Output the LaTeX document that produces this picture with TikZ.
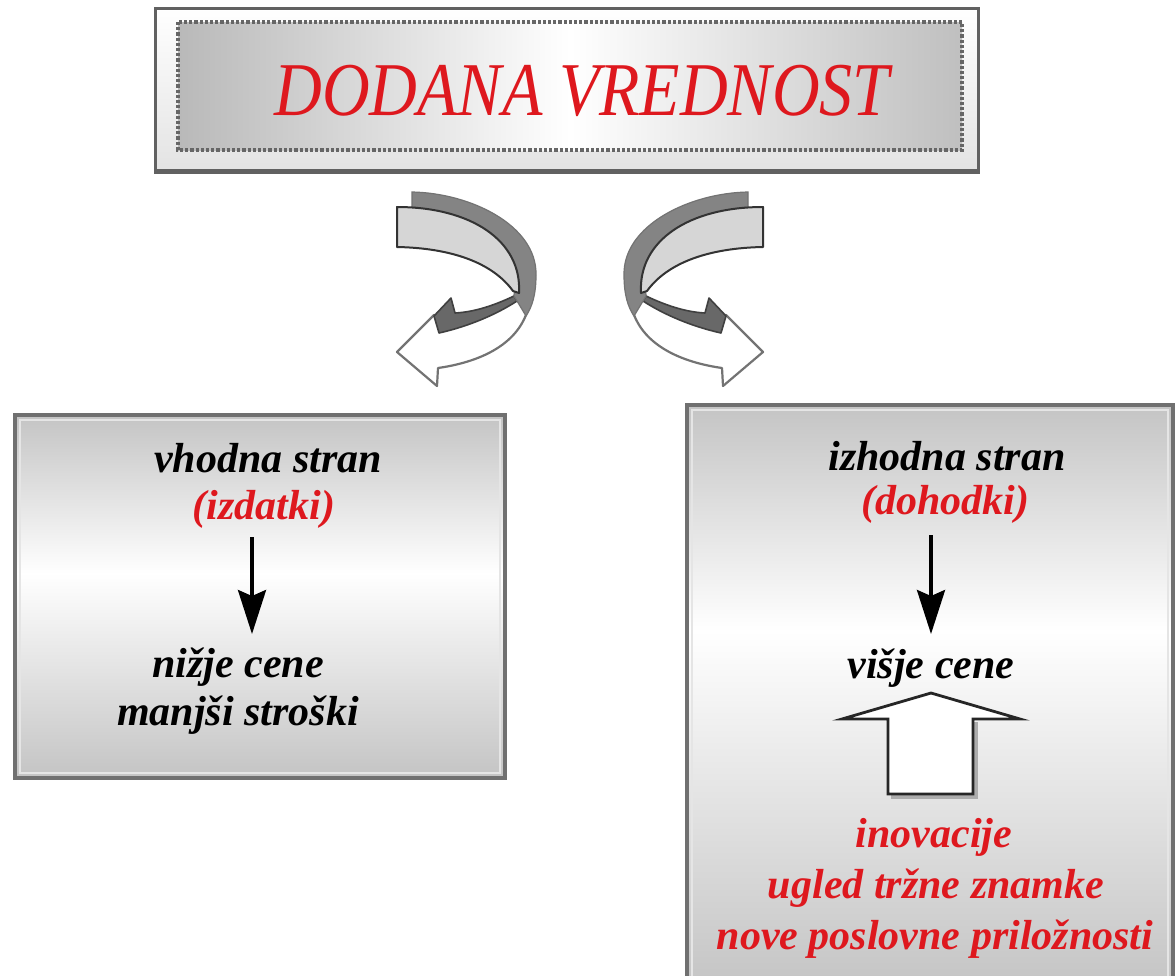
\documentclass[tikz,border=0pt]{standalone}
\usepackage{fontspec}
\setmainfont{Liberation Serif}
\newfontfamily\titlefont[FakeStretch=0.87]{Liberation Serif}
\usetikzlibrary{arrows.meta}
\definecolor{tred}{RGB}{222,24,30}
\definecolor{framegray}{RGB}{112,112,112}
\definecolor{panelgray}{RGB}{196,196,196}
\definecolor{bandgray}{RGB}{132,132,132}
\definecolor{facegray}{RGB}{214,214,214}
\definecolor{undergray}{RGB}{104,104,104}

\tikzset{
  lbl/.style={font=\fontsize{21}{24}\selectfont\bfseries\itshape, inner sep=0pt, anchor=base},
  redlbl/.style={lbl, text=tred},
  downarrow/.style={line width=1.8pt, -{Stealth[length=22pt,width=14pt,inset=3pt]}},
  panelframe/.style={draw=framegray, line width=2pt},
  panelinner/.style={draw=white!80!gray, line width=0.8pt},
  pics/curl/.style={code={
    % back side of the ribbon with the open head
    \filldraw[fill=white, draw=black!55, line width=1.1pt, line join=round]
      (515,296) -- (527,312) .. controls (516,345) and (480,362) .. (438,368)
      -- (437,386) -- (397,352) -- (434,315)
      .. controls (465,318) and (495,308) .. (515,296) -- cycle;
    % dark underside near the head
    \filldraw[fill=undergray, draw=black!75, line width=0.8pt, line join=round]
      (514,296) .. controls (495,305) and (475,312) .. (455,313)
      -- (451,298) -- (434,316) -- (439,333)
      .. controls (470,326) and (497,314) .. (517,301) -- cycle;
    % thickness of the ribbon
    \filldraw[fill=bandgray, draw=black!55, line width=0.6pt]
      (412,192) .. controls (470,193) and (537,225) .. (536,275)
      .. controls (536,295) and (532,307) .. (526,316)
      -- (514,296) .. controls (518,250) and (470,212) .. (412,207) -- cycle;
    % upper face of the ribbon
    \filldraw[fill=facegray, draw=black!80, line width=1pt, line join=round]
      (397,207) .. controls (470,207) and (522,240) .. (519,293)
      -- (513,291) .. controls (492,262) and (450,248) .. (397,247) -- cycle;
  }}
}

\begin{document}
\begin{tikzpicture}[x=0.5pt,y=-0.5pt]
\useasboundingbox (0,0) rectangle (1176,975);
\clip (0,0) rectangle (1176,975);
\fill[white] (0,0) rectangle (1176,975);

% title plate
\fill[top color=white, bottom color=gray!22] (155,8) rectangle (978,172);
\draw[black!62, line width=1.5pt] (155,8) rectangle (978,172);
\draw[black!62, line width=2.5pt] (155,171) -- (978,171);
\fill[left color=gray!55, right color=gray!50, middle color=white] (178,22) rectangle (962,150);
\draw[black!60, line width=2pt, dash pattern=on 1.6pt off 1pt] (178,22) rectangle (962,150);
\node[font=\titlefont\itshape\fontsize{38}{40}\selectfont, text=tred, inner sep=0pt, anchor=base]
  (title) at (582,115) {DODANA VREDNOST};

% curved ribbon arrows
\pic at (0,0) {curl};
\pic[xscale=-1] at (1160,0) {curl};

% left panel
\fill[top color=panelgray, bottom color=white] (15,415) rectangle (505,574);
\fill[top color=white, bottom color=panelgray] (15,573) rectangle (505,778);
\draw[panelinner] (20,420) rectangle (500,773);
\draw[panelframe] (15,415) rectangle (505,778);

\node[lbl] (vhod) at (268,472) {vhodna stran};
\node[redlbl] (izd) at (264,519) {(izdatki)};
\coordinate (la1) at (252,537);
\coordinate (la2) at (252,634);
\draw[downarrow] (la1) -- (la2);
\node[lbl] (nizje) at (238,677) {nižje cene};
\node[lbl] (manjsi) at (238,725) {manjši stroški};

% right panel
\fill[top color=panelgray, bottom color=white] (687,405) rectangle (1173,631);
\fill[top color=white, bottom color=panelgray] (687,630) rectangle (1173,990);
\draw[panelinner] (692,410) rectangle (1168,990);
\draw[panelframe] (687,405) rectangle (1173,995);

\node[lbl] (izhod) at (947,470) {izhodna stran};
\node[redlbl] (doh) at (945,514) {(dohodki)};
\coordinate (ra1) at (931,535);
\coordinate (ra2) at (931,634);
\draw[downarrow] (ra1) -- (ra2);
\node[lbl] (visje) at (931,678) {višje cene};

% hollow block arrow pointing up
\draw[gray!65, line width=1.6pt] (976,722) -- (976,797) -- (891,797);
\filldraw[fill=white, draw=black!85, line width=1.4pt, line join=miter]
  (931,693) -- (1020,719) -- (973,719) -- (973,794) -- (888,794) -- (888,719) -- (842,719) -- cycle;

\node[redlbl] (inov) at (934,847) {inovacije};
\node[redlbl] (ugled) at (936,898) {ugled tržne znamke};
\node[redlbl] (nove) at (935,949) {nove poslovne priložnosti};
\end{tikzpicture}
\end{document}
